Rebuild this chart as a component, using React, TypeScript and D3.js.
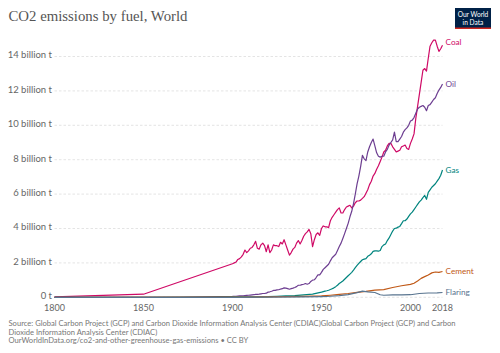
import React from "react";
import * as d3 from "d3";

type P = [number, number];

const coal: P[] = [
  [1800, 0.03], [1850, 0.18], [1900, 1.95], [1901, 2.0], [1902, 2.05], [1903, 2.2], [1904, 2.25],
  [1905, 2.35], [1906, 2.5], [1907, 2.75], [1908, 2.6], [1909, 2.7], [1910, 2.85], [1911, 2.9],
  [1912, 3.05], [1913, 3.25], [1914, 2.85], [1915, 2.8], [1916, 3.05], [1917, 3.15], [1918, 3.0],
  [1919, 2.65], [1920, 3.05], [1921, 2.6], [1922, 2.75], [1923, 3.05], [1924, 3.0], [1925, 3.0],
  [1926, 2.95], [1927, 3.2], [1928, 3.1], [1929, 3.35], [1930, 3.05], [1931, 2.75], [1932, 2.45],
  [1933, 2.6], [1934, 2.8], [1935, 2.9], [1936, 3.15], [1937, 3.3], [1938, 3.1], [1939, 3.3],
  [1940, 3.55], [1941, 3.7], [1942, 3.8], [1943, 3.95], [1944, 3.7], [1945, 2.95], [1946, 3.35],
  [1947, 3.65], [1948, 3.75], [1949, 3.6], [1950, 4.0], [1951, 4.15], [1952, 4.1], [1953, 4.1],
  [1954, 4.05], [1955, 4.45], [1956, 4.65], [1957, 4.8], [1958, 4.95], [1959, 5.1], [1960, 5.2],
  [1961, 4.9], [1962, 4.9], [1963, 5.1], [1964, 5.25], [1965, 5.3], [1966, 5.35], [1967, 5.2],
  [1968, 5.3], [1969, 5.5], [1970, 5.6], [1971, 5.6], [1972, 5.65], [1973, 5.75], [1974, 5.85],
  [1975, 6.05], [1976, 6.25], [1977, 6.55], [1978, 6.75], [1979, 7.05], [1980, 7.2], [1981, 7.45],
  [1982, 7.65], [1983, 7.9], [1984, 8.15], [1985, 8.45], [1986, 8.55], [1987, 8.8], [1988, 8.95],
  [1989, 8.95], [1990, 8.75], [1991, 8.6], [1992, 8.45], [1993, 8.5], [1994, 8.55], [1995, 8.75],
  [1996, 8.8], [1997, 8.85], [1998, 8.65], [1999, 8.6], [2000, 8.95], [2001, 9.2], [2002, 9.5],
  [2003, 10.4], [2004, 11.1], [2005, 11.8], [2006, 12.5], [2007, 13.2], [2008, 13.3], [2009, 13.15],
  [2010, 13.9], [2011, 14.6], [2012, 14.8], [2013, 14.95], [2014, 14.95], [2015, 14.6], [2016, 14.3],
  [2017, 14.45], [2018, 14.65],
];

const oil: P[] = [
  [1800, 0], [1850, 0], [1870, 0.003], [1900, 0.05], [1901, 0.06], [1902, 0.06], [1903, 0.07],
  [1904, 0.08], [1905, 0.08], [1906, 0.09], [1907, 0.1], [1908, 0.11], [1909, 0.12], [1910, 0.13],
  [1911, 0.14], [1912, 0.15], [1913, 0.17], [1914, 0.17], [1915, 0.18], [1916, 0.2], [1917, 0.22],
  [1918, 0.22], [1919, 0.24], [1920, 0.3], [1921, 0.32], [1922, 0.35], [1923, 0.4], [1924, 0.4],
  [1925, 0.43], [1926, 0.44], [1927, 0.48], [1928, 0.5], [1929, 0.55], [1930, 0.53], [1931, 0.5],
  [1932, 0.47], [1933, 0.5], [1934, 0.53], [1935, 0.57], [1936, 0.62], [1937, 0.7], [1938, 0.7],
  [1939, 0.74], [1940, 0.76], [1941, 0.8], [1942, 0.76], [1943, 0.8], [1944, 0.92], [1945, 1.0],
  [1946, 1.02], [1947, 1.15], [1948, 1.3], [1949, 1.3], [1950, 1.45], [1951, 1.62], [1952, 1.72],
  [1953, 1.82], [1954, 1.92], [1955, 2.12], [1956, 2.3], [1957, 2.4], [1958, 2.5], [1959, 2.72],
  [1960, 2.95], [1961, 3.15], [1962, 3.42], [1963, 3.7], [1964, 4.0], [1965, 4.3], [1966, 4.68],
  [1967, 5.0], [1968, 5.45], [1969, 6.0], [1970, 6.6], [1971, 7.05], [1972, 7.6], [1973, 8.25],
  [1974, 8.05], [1975, 7.95], [1976, 8.45], [1977, 8.75], [1978, 9.0], [1979, 9.2], [1980, 8.8],
  [1981, 8.4], [1982, 8.2], [1983, 8.15], [1984, 8.2], [1985, 8.2], [1986, 8.45], [1987, 8.6],
  [1988, 8.85], [1989, 9.0], [1990, 9.15], [1991, 9.6], [1992, 9.05], [1993, 9.05], [1994, 9.2],
  [1995, 9.35], [1996, 9.6], [1997, 9.75], [1998, 9.85], [1999, 10.0], [2000, 10.25], [2001, 10.3],
  [2002, 10.45], [2003, 10.7], [2004, 10.95], [2005, 11.05], [2006, 11.1], [2007, 11.15],
  [2008, 11.05], [2009, 10.85], [2010, 11.15], [2011, 11.2], [2012, 11.35], [2013, 11.5],
  [2014, 11.6], [2015, 11.85], [2016, 12.05], [2017, 12.2], [2018, 12.4],
];

const gas: P[] = [
  [1800, 0], [1850, 0], [1885, 0.01], [1900, 0.02], [1910, 0.03], [1920, 0.04], [1925, 0.06],
  [1930, 0.09], [1935, 0.1], [1940, 0.14], [1945, 0.18], [1950, 0.3], [1951, 0.33], [1952, 0.36],
  [1953, 0.38], [1954, 0.41], [1955, 0.45], [1956, 0.5], [1957, 0.55], [1958, 0.62], [1959, 0.7],
  [1960, 0.8], [1961, 0.87], [1962, 0.95], [1963, 1.05], [1964, 1.15], [1965, 1.25], [1966, 1.35],
  [1967, 1.45], [1968, 1.58], [1969, 1.72], [1970, 1.85], [1971, 1.97], [1972, 2.08], [1973, 2.18],
  [1974, 2.22], [1975, 2.25], [1976, 2.38], [1977, 2.45], [1978, 2.53], [1979, 2.67], [1980, 2.7],
  [1981, 2.7], [1982, 2.68], [1983, 2.72], [1984, 2.95], [1985, 3.05], [1986, 3.1], [1987, 3.3],
  [1988, 3.45], [1989, 3.65], [1990, 3.85], [1991, 4.0], [1992, 4.02], [1993, 4.08], [1994, 4.12],
  [1995, 4.28], [1996, 4.45], [1997, 4.45], [1998, 4.55], [1999, 4.7], [2000, 4.85], [2001, 4.95],
  [2002, 5.1], [2003, 5.25], [2004, 5.4], [2005, 5.55], [2006, 5.65], [2007, 5.8], [2008, 5.92],
  [2009, 5.7], [2010, 6.1], [2011, 6.25], [2012, 6.4], [2013, 6.5], [2014, 6.6], [2015, 6.75],
  [2016, 6.9], [2017, 7.1], [2018, 7.4],
];

const cement: P[] = [
  [1800, 0], [1900, 0.005], [1910, 0.01], [1920, 0.02], [1930, 0.04], [1940, 0.05], [1950, 0.08],
  [1955, 0.12], [1960, 0.17], [1965, 0.22], [1970, 0.29], [1975, 0.34], [1980, 0.42], [1985, 0.45],
  [1990, 0.57], [1995, 0.67], [2000, 0.75], [2002, 0.82], [2004, 0.95], [2006, 1.1], [2008, 1.2],
  [2010, 1.3], [2012, 1.42], [2014, 1.47], [2016, 1.45], [2018, 1.5],
];

const flaring: P[] = [
  [1800, 0], [1900, 0], [1920, 0.005], [1940, 0.02], [1950, 0.04], [1955, 0.06], [1960, 0.1],
  [1965, 0.16], [1970, 0.27], [1973, 0.36], [1976, 0.32], [1980, 0.28], [1983, 0.15], [1985, 0.12],
  [1990, 0.14], [1995, 0.14], [2000, 0.15], [2005, 0.22], [2010, 0.25], [2015, 0.26], [2018, 0.28],
];

const seriesNames = ["Coal", "Oil", "Gas", "Cement", "Flaring"];
const seriesData = [coal, oil, gas, cement, flaring];
const seriesColors = ["#CF0A66", "#6D3E91", "#00847E", "#C05917", "#58748F"];
const labelOffsets = [-3, 0, 0, 0, 0];

const yTicks = [0, 2, 4, 6, 8, 10, 12, 14];
const xTicks = [1800, 1850, 1900, 1950, 2000, 2018];

const title = "CO2 emissions by fuel, World";
const sourceLines = [
  "Source: Global Carbon Project (GCP) and Carbon Dioxide Information Analysis Center (CDIAC)Global Carbon Project (GCP) and Carbon",
  "Dioxide Information Analysis Center (CDIAC)",
  "OurWorldInData.org/co2-and-other-greenhouse-gas-emissions • CC BY",
];

export default function App() {
  const W = 500, H = 353;
  const x = d3.scaleLinear().domain([1800, 2018]).range([54.5, 442.5]);
  const y = d3.scaleLinear().domain([0, 14]).range([297.3, 56.5]);
  const line = d3.line<P>().x((d) => x(d[0])).y((d) => y(d[1]));
  const font = "Lato, 'Liberation Sans', Arial, sans-serif";

  return (
    <svg width={W} height={H} style={{ position: "absolute", left: 0, top: 0, background: "#fff" }}
      fontFamily={font}>
      <rect width={W} height={H} fill="#fff" />
      <text x={8.5} y={20.5} fontFamily="'Liberation Serif', 'DejaVu Serif', serif" fontSize={14.8} fill="#555">
        {title}
      </text>
      <g>
        <rect x={455} y={8} width={36} height={21} fill="#002147" />
        <rect x={455} y={27.5} width={36} height={1.5} fill="#CE261E" />
        <text x={473} y={16.5} textAnchor="middle" fontSize={6.6} fill="#fff">Our World</text>
        <text x={473} y={24.5} textAnchor="middle" fontSize={6.6} fill="#fff">in Data</text>
      </g>
      {yTicks.map((t) => (
        <g key={t}>
          <line x1={54.5} x2={442.5} y1={y(t)} y2={y(t)} stroke="#ddd" strokeWidth={0.8} strokeDasharray="2.5,2" />
          <text x={52} y={y(t)} dy="0.2em" textAnchor="end" fontSize={9.5} fill="#666">
            {t === 0 ? "0 t" : `${t} billion t`}
          </text>
        </g>
      ))}
      {xTicks.map((t) => (
        <text key={t} x={x(t)} y={310.5} textAnchor="middle" fontSize={9} fill="#666">{t}</text>
      ))}
      {seriesData.map((s, i) => (
        <path key={seriesNames[i]} d={line(s) || ""} fill="none" stroke={seriesColors[i]} strokeWidth={1.2}
          strokeLinejoin="round" />
      ))}
      {seriesData.map((s, i) => {
        const last = s[s.length - 1];
        return (
          <text key={seriesNames[i]} x={x(last[0]) + 3} y={y(last[1]) + labelOffsets[i]} dy="0.35em"
            fontSize={8.2} fill={seriesColors[i]}>{seriesNames[i]}</text>
        );
      })}
      {sourceLines.map((l, i) => (
        <text key={i} x={8.5} y={326 + i * 8.6} fontSize={7.6} fill="#777">{l}</text>
      ))}
    </svg>
  );
}
